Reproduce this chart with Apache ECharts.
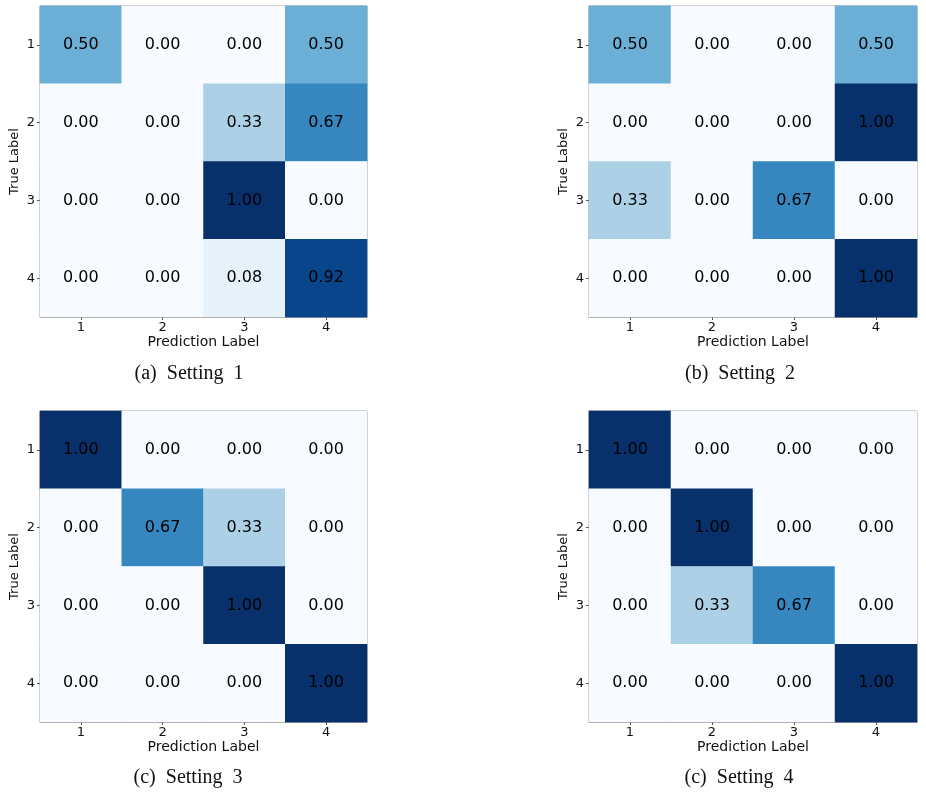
<!DOCTYPE html>
<html>
<head>
<meta charset="utf-8">
<script src="https://cdn.jsdelivr.net/npm/echarts@6/dist/echarts.min.js"></script>
<style>html,body{margin:0;padding:0;background:#fff;}#c{width:926px;height:796px;}</style>
</head>
<body>
<div id="c"></div>
<script>
const categories = ['1', '2', '3', '4'];
// rows = true label 1..4, columns = prediction label 1..4
const setting1 = [
  [0.50, 0.00, 0.00, 0.50],
  [0.00, 0.00, 0.33, 0.67],
  [0.00, 0.00, 1.00, 0.00],
  [0.00, 0.00, 0.08, 0.92]
];
const setting2 = [
  [0.50, 0.00, 0.00, 0.50],
  [0.00, 0.00, 0.00, 1.00],
  [0.33, 0.00, 0.67, 0.00],
  [0.00, 0.00, 0.00, 1.00]
];
const setting3 = [
  [1.00, 0.00, 0.00, 0.00],
  [0.00, 0.67, 0.33, 0.00],
  [0.00, 0.00, 1.00, 0.00],
  [0.00, 0.00, 0.00, 1.00]
];
const setting4 = [
  [1.00, 0.00, 0.00, 0.00],
  [0.00, 1.00, 0.00, 0.00],
  [0.00, 0.33, 0.67, 0.00],
  [0.00, 0.00, 0.00, 1.00]
];
const captions = ['(a)  Setting  1', '(b)  Setting  2', '(c)  Setting  3', '(c)  Setting  4'];
const matrices = [setting1, setting2, setting3, setting4];

const grids = [
  {left: 40, top: 6, width: 327, height: 311},
  {left: 589, top: 6, width: 328, height: 311},
  {left: 40, top: 411, width: 327, height: 311},
  {left: 589, top: 411, width: 328, height: 311}
];
const captionPos = [[189, 374], [740, 374], [188, 778], [739, 778]];

function toData(m) {
  const d = [];
  m.forEach((row, r) => row.forEach((v, c) => d.push([c, r, v])));
  return d;
}

const sans = 'DejaVu Sans';
const option = {
  backgroundColor: '#fff',
  animation: false,
  grid: grids.map(g => Object.assign({show: true, borderColor: '#888', borderWidth: 1, backgroundColor: 'transparent'}, g)),
  xAxis: grids.map((g, i) => ({
    type: 'category', gridIndex: i, data: categories,
    name: 'Prediction Label', nameLocation: 'middle', nameGap: 18,
    nameTextStyle: {fontFamily: sans, fontSize: 14, color: '#111'},
    axisLine: {show: true, lineStyle: {color: '#999'}},
    axisTick: {show: true, alignWithLabel: true, length: 3, lineStyle: {color: '#555'}},
    axisLabel: {fontFamily: sans, fontSize: 13, color: '#111', margin: 4},
    splitLine: {show: false}
  })),
  yAxis: grids.map((g, i) => ({
    type: 'category', gridIndex: i, data: categories, inverse: true,
    name: 'True Label', nameLocation: 'middle', nameGap: 19, nameRotate: 90,
    nameTextStyle: {fontFamily: sans, fontSize: 13, color: '#111'},
    axisLine: {show: true, lineStyle: {color: '#999'}},
    axisTick: {show: true, alignWithLabel: true, length: 3, lineStyle: {color: '#555'}},
    axisLabel: {fontFamily: sans, fontSize: 13, color: '#111', margin: 5},
    splitLine: {show: false}
  })),
  visualMap: {
    show: false, type: 'continuous', min: 0, max: 1, dimension: 2,
    seriesIndex: [0, 1, 2, 3],
    inRange: {color: ['#f7fbff', '#deebf7', '#c6dbef', '#9ecae1', '#6baed6', '#4292c6', '#2171b5', '#08519c', '#08306b']}
  },
  series: matrices.map((m, i) => ({
    type: 'heatmap', xAxisIndex: i, yAxisIndex: i,
    data: toData(m),
    label: {show: true, fontFamily: sans, fontSize: 16, color: '#000',
      formatter: p => p.value[2].toFixed(2)},
    itemStyle: {borderWidth: 0},
    emphasis: {disabled: true}
  })),
  graphic: captions.map((t, i) => ({
    type: 'text', x: captionPos[i][0], y: captionPos[i][1],
    style: {text: t, fontFamily: 'Liberation Serif', fontSize: 20, fill: '#111',
      textAlign: 'center', textVerticalAlign: 'middle'}
  }))
};
const chart = echarts.init(document.getElementById('c'), null, {renderer: 'canvas'});
chart.setOption(option);
</script>
</body>
</html>
